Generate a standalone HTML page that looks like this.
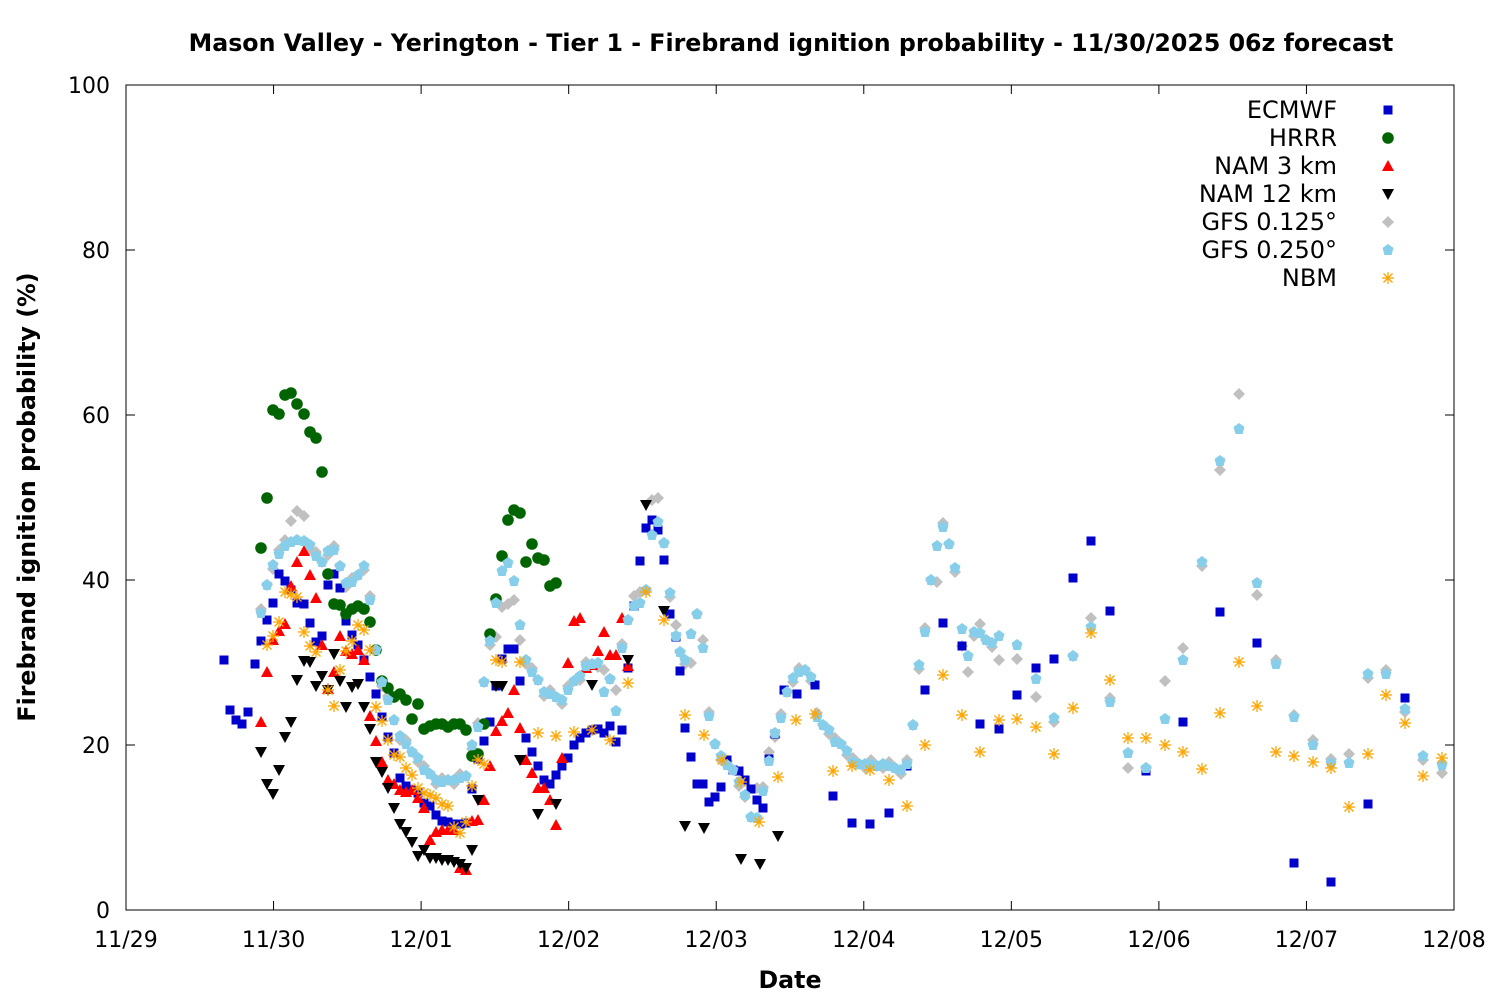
<!DOCTYPE html>
<html><head><meta charset="utf-8"><style>
html,body{margin:0;padding:0;background:#fff;}
svg{display:block;font-family:"DejaVu Sans","Liberation Sans",sans-serif;}
</style></head><body>
<svg id="s" width="1500" height="1000" xmlns="http://www.w3.org/2000/svg">
<rect width="1500" height="1000" fill="#fff"/>
<text x="791" y="51" text-anchor="middle" font-size="23.7" font-weight="bold">Mason Valley - Yerington - Tier 1 - Firebrand ignition probability - 11/30/2025 06z forecast</text>
<rect x="126" y="85" width="1328" height="825" fill="none" stroke="#000" stroke-width="1"/>
<g id="ax" stroke="#000" stroke-width="1"></g>
<g id="lab" font-size="22"></g>
<text x="790" y="988" text-anchor="middle" font-size="23.7" font-weight="bold">Date</text>
<text transform="translate(35,497) rotate(-90)" text-anchor="middle" font-size="23.7" font-weight="bold">Firebrand ignition probability (%)</text>
<g id="pts"></g>
<g font-size="24" text-anchor="end">
<text x="1337" y="118">ECMWF</text>
<text x="1337" y="146">HRRR</text>
<text x="1337" y="174">NAM 3 km</text>
<text x="1337" y="202">NAM 12 km</text>
<text x="1337" y="230">GFS 0.125°</text>
<text x="1337" y="258">GFS 0.250°</text>
<text x="1337" y="286">NBM</text>
</g>
</svg>
<script>
const NS="http://www.w3.org/2000/svg";
const ax=document.getElementById('ax'),lab=document.getElementById('lab'),P=document.getElementById('pts');
function el(p,t,a){const e=document.createElementNS(NS,t);for(const k in a)e.setAttribute(k,a[k]);p.appendChild(e);return e;}
for(let v=0;v<=100;v+=20){const y=910-v*8.25;el(ax,'line',{x1:126,y1:y,x2:135,y2:y});el(ax,'line',{x1:1454,y1:y,x2:1445,y2:y});
const t=el(lab,'text',{x:110,y:y+8,'text-anchor':'end'});t.textContent=v;}
const days=['11/29','11/30','12/01','12/02','12/03','12/04','12/05','12/06','12/07','12/08'];
days.forEach((d,i)=>{const x=126+i*147.556;el(ax,'line',{x1:x,y1:910,x2:x,y2:901});el(ax,'line',{x1:x,y1:85,x2:x,y2:94});
const t=el(lab,'text',{x:x,y:947,'text-anchor':'middle'});t.textContent=d;});
function sq(x,y,c){el(P,'rect',{x:x-4.5,y:y-4.5,width:9,height:9,fill:c});}
function ci(x,y,c){el(P,'circle',{cx:x,cy:y,r:5.8,fill:c});}
function tu(x,y,c){el(P,'polygon',{points:`${x},${y-6} ${x-6},${y+5} ${x+6},${y+5}`,fill:c});}
function td(x,y,c){el(P,'polygon',{points:`${x},${y+6} ${x-6},${y-5} ${x+6},${y-5}`,fill:c});}
function di(x,y,c){el(P,'polygon',{points:`${x},${y-6} ${x+6},${y} ${x},${y+6} ${x-6},${y}`,fill:c});}
function hx(x,y,c){el(P,'polygon',{points:`${x},${y-6} ${x+5.5},${y-2} ${x+3.5},${y+5} ${x-3.5},${y+5} ${x-5.5},${y-2}`,fill:c});}
function st(x,y,c){const g=el(P,'g',{stroke:c,'stroke-width':1.3});
el(g,'line',{x1:x-6,y1:y,x2:x+6,y2:y});el(g,'line',{x1:x,y1:y-6,x2:x,y2:y+6});
el(g,'line',{x1:x-4.5,y1:y-4.5,x2:x+4.5,y2:y+4.5});el(g,'line',{x1:x-4.5,y1:y+4.5,x2:x+4.5,y2:y-4.5});}
function A(s){return s.trim().split(/\s+/).map(p=>p.split(',').map(Number));}
const G25=A(`261,613 267,585 273,565 279,554 285,546 291,542 297,540 304,541 310,545 316,556 322,562 328,551 334,550 340,566 346,583 352,582 358,575 364,566 370,600 376,650 382,682 388,700 394,720 400,736 406,744 412,752 418,758 424,770 430,774 436,780 442,782 448,780 454,780 460,778 466,776 472,745 478,727 484,682 490,641 496,603 502,571 508,563 514,581 520,625 526,660 532,672 538,680 544,692 550,694 556,697 562,700 568,690 574,681 580,676 586,666 592,664 598,663 604,692 610,679 616,711 622,648 628,620 634,606 640,603 646,590 652,535 658,522 664,543 670,593 676,636 680,652 685,660 691,634 697,614 703,648 709,716 715,744 721,756 727,765 733,770 739,782 745,795 751,817 757,818 763,791 769,761 775,733 781,718 787,692 793,678 799,672 805,670 811,677 817,717 823,725 829,730 835,742 841,744 847,751 853,762 859,764 865,764 871,764 877,766 883,764 889,766 895,768 901,770 907,764 913,725 919,665 925,632 931,580 937,546 943,527 949,544 955,568 962,629 968,656 974,632 980,633 986,640 992,643 999,636 1017,645 1036,679 1054,718 1073,656 1091,627 1110,702 1128,753 1146,768 1165,719 1183,660 1202,562 1220,461 1239,429 1257,583 1276,664 1294,717 1313,745 1331,763 1349,763 1368,674 1386,674 1405,709 1423,756 1442,765`);
const over={297:511,304:516,291:521,285:540,652:500,658:498,1239:394,1220:470,1257:595,1091:618,1313:740,1349:754,1442:773,1183:648,1165:681,1036:697,1017:659,962:646,968:672,980:624,937:582,999:660,1054:722,1146:768,1128:768,1294:715,1405:712,640:592,616:690,604:670,634:596,496:637,502:607,508:604,514:600,520:640,676:625,691:663,703:640,745:797,757:788,769:752};
G25.forEach(([x,y],i)=>{let yy=over[x]!==undefined?over[x]:y+((i%3)-1)*4;di(x,yy,'#c0c0c0');});
A(`224,660 230,710 236,720 242,724 248,712 255,664 261,641 267,620 273,603 279,574 285,581 291,590 297,603 304,604 310,623 316,642 322,636 328,585 334,574 340,588 346,621 352,635 358,645 364,660 370,677 376,694 382,717 388,737 394,753 400,778 406,786 412,790 418,793 424,803 430,806 436,815 442,821 448,822 454,824 460,824 466,823 472,789 478,759 484,741 490,722 496,686 502,659 508,649 514,649 520,681 526,738 532,752 538,766 544,780 550,784 556,775 562,766 568,758 574,745 580,738 586,733 592,730 598,729 604,733 610,726 616,742 622,730 628,668 634,606 640,561 646,528 652,520 658,530 664,560 670,614 676,637 680,671 685,728 691,757 697,784 703,784 709,802 715,797 721,787 727,760 733,770 739,771 745,780 751,789 757,800 763,808 769,759 775,734 784,690 797,694 815,685 833,796 852,823 870,824 889,813 907,766 925,690 943,623 962,646 980,724 999,729 1017,695 1036,668 1054,659 1073,578 1091,541 1110,611 1146,771 1183,722 1220,612 1257,643 1294,863 1331,882 1368,804 1405,698`).forEach(([x,y])=>sq(x,y,'#0000cc'));
A(`261,548 267,498 273,410 279,414 285,395 291,393 297,404 304,414 310,432 316,438 322,472 328,574 334,604 340,605 346,614 352,609 358,606 364,609 370,622 376,650 382,681 388,688 394,697 400,694 406,700 412,719 418,704 424,729 430,726 436,724 442,724 448,727 454,724 460,724 466,730 472,756 478,754 484,724 490,634 496,599 502,556 508,520 514,510 520,513 526,562 532,544 538,558 544,560 550,586 556,583`).forEach(([x,y])=>ci(x,y,'#006400'));
A(`261,722 267,672 273,640 279,631 285,624 291,586 297,562 304,551 310,575 316,598 322,645 328,689 334,672 340,636 346,651 352,654 358,650 364,660 370,716 376,741 382,762 388,780 394,784 400,790 406,792 412,790 418,798 424,808 430,840 436,832 442,830 448,830 454,830 460,868 466,870 472,821 478,820 484,800 490,766 496,731 502,721 508,713 514,690 520,728 526,760 532,773 538,788 544,788 550,800 556,825 562,758 568,663 574,621 580,618 586,668 592,665 598,651 604,632 610,655 616,655 622,618 628,666`).forEach(([x,y])=>tu(x,y,'#ff0000'));
A(`261,752 267,784 273,794 279,770 285,737 291,722 297,680 304,661 310,662 316,686 322,676 328,690 334,654 340,681 346,707 352,687 358,684 364,707 370,729 376,762 382,772 388,788 394,808 400,824 406,832 412,842 418,856 424,850 430,858 436,858 442,860 448,860 454,862 460,864 466,868 472,850 478,800 496,686 502,686 520,760 538,814 556,804 592,685 628,660 646,505 664,611 685,826 704,828 741,859 760,864 778,836`).forEach(([x,y])=>td(x,y,'#000'));
G25.forEach(([x,y])=>hx(x,y,'#87ceeb'));
A(`267,645 273,636 279,622 285,592 291,594 297,597 304,632 310,646 316,652 328,690 334,706 340,670 346,651 352,641 358,625 364,630 370,650 376,707 382,721 388,740 394,755 400,757 406,768 412,775 418,788 424,793 430,795 436,798 442,804 448,806 454,827 460,833 466,822 472,786 478,760 484,764 496,660 502,662 520,662 538,733 556,736 574,732 592,730 610,740 628,683 646,592 664,620 685,715 704,735 722,760 741,782 759,822 778,777 796,720 815,714 833,771 852,766 870,770 889,780 907,806 925,745 943,675 962,715 980,752 999,720 1017,719 1036,727 1054,754 1073,708 1091,633 1110,680 1128,738 1146,738 1165,745 1183,752 1202,769 1220,713 1239,662 1257,706 1276,752 1294,756 1313,762 1331,768 1349,807 1368,754 1386,695 1405,723 1423,776 1442,758`).forEach(([x,y])=>st(x,y,'#ffa500'));
sq(1388,110,'#0000cc');ci(1388,138,'#006400');tu(1388,166,'#ff0000');td(1388,194,'#000');di(1388,222,'#c0c0c0');hx(1388,250,'#87ceeb');st(1388,278,'#ffa500');
</script>
</body></html>
